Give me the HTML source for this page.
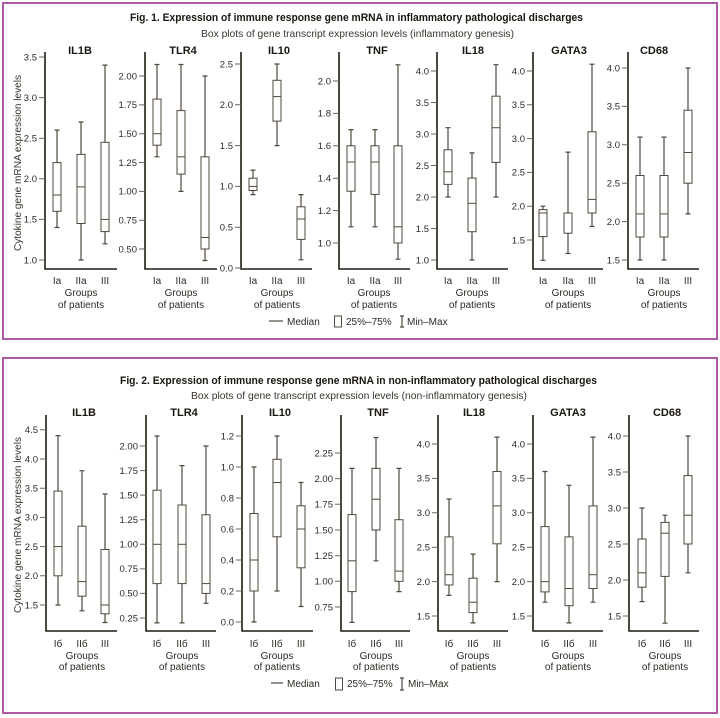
<!DOCTYPE html>
<html><head><meta charset="utf-8"><style>
html,body{margin:0;padding:0;background:#fff;}
svg{display:block;}
.ax{stroke:#1f1b12;stroke-width:1.6;fill:none}
.tk{stroke:#6b655c;stroke-width:1;fill:none}
.bx{stroke:#4f483e;stroke-width:1;fill:#fff}
.wk{stroke:#4f483e;stroke-width:1.2;fill:none}
.md{stroke:#4f483e;stroke-width:1;fill:none}
text{font-family:"Liberation Sans","Noto Sans CJK SC",sans-serif;fill:#2e2a24}
.tl{font-size:9.5px;text-anchor:end}
.gl{font-size:10px;text-anchor:middle}
.pt{font-size:11px;font-weight:bold;text-anchor:middle;fill:#1a1610}
.tt{font-size:11px;font-weight:bold;fill:#1a1610}
.st{font-size:10.5px;fill:#3a352e}
.lg{font-size:10px}
</style></head><body>
<svg width="720" height="718" viewBox="0 0 720 718" xmlns="http://www.w3.org/2000/svg">
<rect x="0" y="0" width="720" height="718" fill="#fff"/>
<rect x="3" y="3" width="714" height="336" fill="none" stroke="#b05aa5" stroke-width="2"/>
<rect x="3" y="358" width="714" height="355" fill="none" stroke="#b05aa5" stroke-width="2"/>

<!-- ================= FIG 1 ================= -->
<text class="tt" x="130" y="21" textLength="453" lengthAdjust="spacingAndGlyphs">Fig. 1. Expression of immune response gene mRNA in inflammatory pathological discharges</text>
<text class="st" x="201" y="37" textLength="313" lengthAdjust="spacingAndGlyphs">Box plots of gene transcript expression levels (inflammatory genesis)</text>
<text class="st" transform="translate(21,163) rotate(-90)" text-anchor="middle" textLength="176" lengthAdjust="spacingAndGlyphs">Cytokine gene mRNA expression levels</text>

<!-- IL1B -->
<text class="pt" x="80" y="54">IL1B</text>
<path class="ax" d="M45 52V269H117"/>
<path class="tk" d="M39 260H45M39 219.4H45M39 178.8H45M39 138.2H45M39 97.6H45M39 57H45"/>
<text class="tl" x="37" y="263.3">1.0</text><text class="tl" x="37" y="222.7">1.5</text><text class="tl" x="37" y="182.1">2.0</text><text class="tl" x="37" y="141.5">2.5</text><text class="tl" x="37" y="100.9">3.0</text><text class="tl" x="37" y="60.3">3.5</text>
<path class="wk" d="M57 227.5V130.1M54.5 227.5h5M54.5 130.1h5"/><rect class="bx" x="53" y="162.6" width="8" height="48.7"/><path class="md" d="M53 195h8"/>
<path class="wk" d="M81 260V122M78.5 260h5M78.5 122h5"/><rect class="bx" x="77" y="154.4" width="8" height="69.1"/><path class="md" d="M77 186.9h8"/>
<path class="wk" d="M105 243.8V65.1M102.5 243.8h5M102.5 65.1h5"/><rect class="bx" x="101" y="142.3" width="8" height="89.3"/><path class="md" d="M101 219.4h8"/>
<text class="gl" x="57" y="284">Ia</text><text class="gl" x="81" y="284">IIa</text><text class="gl" x="105" y="284">III</text>
<text class="gl" x="81" y="296">Groups</text><text class="gl" x="81" y="308">of patients</text>

<!-- TLR4 -->
<text class="pt" x="183" y="54">TLR4</text>
<path class="ax" d="M145 52V269H217"/>
<path class="tk" d="M139 249H145M139 220.2H145M139 191.4H145M139 162.5H145M139 133.7H145M139 104.9H145M139 76H145"/>
<text class="tl" x="137" y="252.3">0.50</text><text class="tl" x="137" y="223.5">0.75</text><text class="tl" x="137" y="194.7">1.00</text><text class="tl" x="137" y="165.8">1.25</text><text class="tl" x="137" y="137">1.50</text><text class="tl" x="137" y="108.2">1.75</text><text class="tl" x="137" y="79.3">2.00</text>
<path class="wk" d="M157 156.8V64.5M154.5 156.8h5M154.5 64.5h5"/><rect class="bx" x="153" y="99.1" width="8" height="46.1"/><path class="md" d="M153 133.7h8"/>
<path class="wk" d="M181 191.4V64.5M178.5 191.4h5M178.5 64.5h5"/><rect class="bx" x="177" y="110.6" width="8" height="63.5"/><path class="md" d="M177 156.8h8"/>
<path class="wk" d="M205 260.5V76M202.5 260.5h5M202.5 76h5"/><rect class="bx" x="201" y="156.8" width="8" height="92.2"/><path class="md" d="M201 237.5h8"/>
<text class="gl" x="157" y="284">Ia</text><text class="gl" x="181" y="284">IIa</text><text class="gl" x="205" y="284">III</text>
<text class="gl" x="181" y="296">Groups</text><text class="gl" x="181" y="308">of patients</text>

<!-- IL10 -->
<text class="pt" x="279" y="54">IL10</text>
<path class="ax" d="M241 52V269H312"/>
<path class="tk" d="M235 268H241M235 227.2H241M235 186.4H241M235 145.6H241M235 104.8H241M235 64H241"/>
<text class="tl" x="233" y="271.3">0.0</text><text class="tl" x="233" y="230.5">0.5</text><text class="tl" x="233" y="189.7">1.0</text><text class="tl" x="233" y="148.9">1.5</text><text class="tl" x="233" y="108.1">2.0</text><text class="tl" x="233" y="67.3">2.5</text>
<path class="wk" d="M253 194.6V170.1M250.5 194.6h5M250.5 170.1h5"/><rect class="bx" x="249" y="178.2" width="8" height="12.3"/><path class="md" d="M249 186.4h8"/>
<path class="wk" d="M277 145.6V64M274.5 145.6h5M274.5 64h5"/><rect class="bx" x="273" y="80.3" width="8" height="40.8"/><path class="md" d="M273 96.6h8"/>
<path class="wk" d="M301 259.8V194.6M298.5 259.8h5M298.5 194.6h5"/><rect class="bx" x="297" y="206.8" width="8" height="32.6"/><path class="md" d="M297 219h8"/>
<text class="gl" x="253" y="284">Ia</text><text class="gl" x="277" y="284">IIa</text><text class="gl" x="301" y="284">III</text>
<text class="gl" x="277" y="296">Groups</text><text class="gl" x="277" y="308">of patients</text>

<!-- TNF -->
<text class="pt" x="377" y="54">TNF</text>
<path class="ax" d="M339 52V269H410"/>
<path class="tk" d="M333 243H339M333 210.6H339M333 178.2H339M333 145.8H339M333 113.4H339M333 81H339"/>
<text class="tl" x="331" y="246.3">1.0</text><text class="tl" x="331" y="213.9">1.2</text><text class="tl" x="331" y="181.5">1.4</text><text class="tl" x="331" y="149.1">1.6</text><text class="tl" x="331" y="116.7">1.8</text><text class="tl" x="331" y="84.3">2.0</text>
<path class="wk" d="M351 226.8V129.6M348.5 226.8h5M348.5 129.6h5"/><rect class="bx" x="347" y="145.8" width="8" height="45.4"/><path class="md" d="M347 162h8"/>
<path class="wk" d="M375 226.8V129.6M372.5 226.8h5M372.5 129.6h5"/><rect class="bx" x="371" y="145.8" width="8" height="48.6"/><path class="md" d="M371 162h8"/>
<path class="wk" d="M398 259.2V64.8M395.5 259.2h5M395.5 64.8h5"/><rect class="bx" x="394" y="145.8" width="8" height="97.2"/><path class="md" d="M394 226.8h8"/>
<text class="gl" x="351" y="284">Ia</text><text class="gl" x="375" y="284">IIa</text><text class="gl" x="398" y="284">III</text>
<text class="gl" x="374" y="296">Groups</text><text class="gl" x="374" y="308">of patients</text>

<!-- IL18 -->
<text class="pt" x="473" y="54">IL18</text>
<path class="ax" d="M437 52V269H508"/>
<path class="tk" d="M431 260H437M431 228.5H437M431 197H437M431 165.5H437M431 134H437M431 102.5H437M431 71H437"/>
<text class="tl" x="429" y="263.3">1.0</text><text class="tl" x="429" y="231.8">1.5</text><text class="tl" x="429" y="200.3">2.0</text><text class="tl" x="429" y="168.8">2.5</text><text class="tl" x="429" y="137.3">3.0</text><text class="tl" x="429" y="105.8">3.5</text><text class="tl" x="429" y="74.3">4.0</text>
<path class="wk" d="M448 197V127.7M445.5 197h5M445.5 127.7h5"/><rect class="bx" x="444" y="149.8" width="8" height="34.6"/><path class="md" d="M444 171.8h8"/>
<path class="wk" d="M472 260V152.9M469.5 260h5M469.5 152.9h5"/><rect class="bx" x="468" y="178.1" width="8" height="53.6"/><path class="md" d="M468 203.3h8"/>
<path class="wk" d="M496 197V64.7M493.5 197h5M493.5 64.7h5"/><rect class="bx" x="492" y="96.2" width="8" height="66.2"/><path class="md" d="M492 127.7h8"/>
<text class="gl" x="448" y="284">Ia</text><text class="gl" x="472" y="284">IIa</text><text class="gl" x="496" y="284">III</text>
<text class="gl" x="472" y="296">Groups</text><text class="gl" x="472" y="308">of patients</text>

<!-- GATA3 -->
<text class="pt" x="569" y="54">GATA3</text>
<path class="ax" d="M533 52V269H603"/>
<path class="tk" d="M527 240H533M527 206.2H533M527 172.4H533M527 138.6H533M527 104.8H533M527 71H533"/>
<text class="tl" x="525" y="243.3">1.5</text><text class="tl" x="525" y="209.5">2.0</text><text class="tl" x="525" y="175.7">2.5</text><text class="tl" x="525" y="141.9">3.0</text><text class="tl" x="525" y="108.1">3.5</text><text class="tl" x="525" y="74.3">4.0</text>
<path class="wk" d="M543 260.3V206.2M540.5 260.3h5M540.5 206.2h5"/><rect class="bx" x="539" y="209.6" width="8" height="27"/><path class="md" d="M539 213h8"/>
<path class="wk" d="M568 253.5V152.1M565.5 253.5h5M565.5 152.1h5"/><rect class="bx" x="564" y="213" width="8" height="20.2"/>
<path class="wk" d="M592 226.5V64.2M589.5 226.5h5M589.5 64.2h5"/><rect class="bx" x="588" y="131.8" width="8" height="81.2"/><path class="md" d="M588 199.4h8"/>
<text class="gl" x="543" y="284">Ia</text><text class="gl" x="568" y="284">IIa</text><text class="gl" x="592" y="284">III</text>
<text class="gl" x="568" y="296">Groups</text><text class="gl" x="568" y="308">of patients</text>

<!-- CD68 -->
<text class="pt" x="654" y="54">CD68</text>
<path class="ax" d="M628 52V269H699"/>
<path class="tk" d="M622 260H628M622 221.6H628M622 183.2H628M622 144.8H628M622 106.4H628M622 68H628"/>
<text class="tl" x="620" y="263.3">1.5</text><text class="tl" x="620" y="224.9">2.0</text><text class="tl" x="620" y="186.5">2.5</text><text class="tl" x="620" y="148.1">3.0</text><text class="tl" x="620" y="109.7">3.5</text><text class="tl" x="620" y="71.3">4.0</text>
<path class="wk" d="M640 260V137.1M637.5 260h5M637.5 137.1h5"/><rect class="bx" x="636" y="175.5" width="8" height="61.5"/><path class="md" d="M636 213.9h8"/>
<path class="wk" d="M664 260V137.1M661.5 260h5M661.5 137.1h5"/><rect class="bx" x="660" y="175.5" width="8" height="61.5"/><path class="md" d="M660 213.9h8"/>
<path class="wk" d="M688 213.9V68M685.5 213.9h5M685.5 68h5"/><rect class="bx" x="684" y="110.2" width="8" height="73"/><path class="md" d="M684 152.5h8"/>
<text class="gl" x="640" y="284">Ia</text><text class="gl" x="664" y="284">IIa</text><text class="gl" x="688" y="284">III</text>
<text class="gl" x="664" y="296">Groups</text><text class="gl" x="664" y="308">of patients</text>

<!-- legend fig1 -->
<path class="wk" d="M269 321H283"/>
<text class="lg" x="287" y="325">Median</text>
<rect class="bx" x="334.5" y="316" width="7" height="11"/>
<text class="lg" x="346" y="325">25%–75%</text>
<path class="wk" d="M402 316V327M400 316h4M400 327h4"/>
<text class="lg" x="407" y="325">Min–Max</text>

<!-- ================= FIG 2 ================= -->
<text class="tt" x="120" y="384" textLength="477" lengthAdjust="spacingAndGlyphs">Fig. 2. Expression of immune response gene mRNA in non-inflammatory pathological discharges</text>
<text class="st" x="191" y="399" textLength="336" lengthAdjust="spacingAndGlyphs">Box plots of gene transcript expression levels (non-inflammatory genesis)</text>
<text class="st" transform="translate(21,525) rotate(-90)" text-anchor="middle" textLength="176" lengthAdjust="spacingAndGlyphs">Cytokine gene mRNA expression levels</text>

<!-- IL1B -->
<text class="pt" x="84" y="416">IL1B</text>
<path class="ax" d="M46 415V631H117"/>
<path class="tk" d="M40 605H46M40 575.8H46M40 546.6H46M40 517.4H46M40 488.2H46M40 459H46M40 429.8H46"/>
<text class="tl" x="38" y="608.3">1.5</text><text class="tl" x="38" y="579.1">2.0</text><text class="tl" x="38" y="549.9">2.5</text><text class="tl" x="38" y="520.7">3.0</text><text class="tl" x="38" y="491.5">3.5</text><text class="tl" x="38" y="462.3">4.0</text><text class="tl" x="38" y="433.1">4.5</text>
<path class="wk" d="M58 605V435.6M55.5 605h5M55.5 435.6h5"/><rect class="bx" x="54" y="491.1" width="8" height="84.7"/><path class="md" d="M54 546.6h8"/>
<path class="wk" d="M82 610.8V470.7M79.5 610.8h5M79.5 470.7h5"/><rect class="bx" x="78" y="526.2" width="8" height="70"/><path class="md" d="M78 581.6h8"/>
<path class="wk" d="M105 622.5V494M102.5 622.5h5M102.5 494h5"/><rect class="bx" x="101" y="549.5" width="8" height="64.3"/><path class="md" d="M101 605h8"/>
<text class="gl" x="58" y="647">Iб</text><text class="gl" x="82" y="647">IIб</text><text class="gl" x="105" y="647">III</text>
<text class="gl" x="82" y="659">Groups</text><text class="gl" x="82" y="670">of patients</text>

<!-- TLR4 -->
<text class="pt" x="184" y="416">TLR4</text>
<path class="ax" d="M146 415V631H216"/>
<path class="tk" d="M140 618H146M140 593.4H146M140 568.9H146M140 544.3H146M140 519.7H146M140 495.1H146M140 470.6H146M140 446H146"/>
<text class="tl" x="138" y="621.3">0.25</text><text class="tl" x="138" y="596.7">0.50</text><text class="tl" x="138" y="572.2">0.75</text><text class="tl" x="138" y="547.6">1.00</text><text class="tl" x="138" y="523">1.25</text><text class="tl" x="138" y="498.4">1.50</text><text class="tl" x="138" y="473.9">1.75</text><text class="tl" x="138" y="449.3">2.00</text>
<path class="wk" d="M157 622.9V436M154.5 622.9h5M154.5 436h5"/><rect class="bx" x="153" y="490.2" width="8" height="93.4"/><path class="md" d="M153 544.3h8"/>
<path class="wk" d="M182 622.9V465.6M179.5 622.9h5M179.5 465.6h5"/><rect class="bx" x="178" y="505" width="8" height="78.6"/><path class="md" d="M178 544.3h8"/>
<path class="wk" d="M206 603.3V446M203.5 603.3h5M203.5 446h5"/><rect class="bx" x="202" y="514.8" width="8" height="78.6"/><path class="md" d="M202 583.6h8"/>
<text class="gl" x="157" y="647">Iб</text><text class="gl" x="182" y="647">IIб</text><text class="gl" x="206" y="647">III</text>
<text class="gl" x="182" y="659">Groups</text><text class="gl" x="182" y="670">of patients</text>

<!-- IL10 -->
<text class="pt" x="280" y="416">IL10</text>
<path class="ax" d="M242 415V631H313"/>
<path class="tk" d="M236 622H242M236 591H242M236 560H242M236 529H242M236 498H242M236 467H242M236 436H242"/>
<text class="tl" x="234" y="625.3">0.0</text><text class="tl" x="234" y="594.3">0.2</text><text class="tl" x="234" y="563.3">0.4</text><text class="tl" x="234" y="532.3">0.6</text><text class="tl" x="234" y="501.3">0.8</text><text class="tl" x="234" y="470.3">1.0</text><text class="tl" x="234" y="439.3">1.2</text>
<path class="wk" d="M254 622V467M251.5 622h5M251.5 467h5"/><rect class="bx" x="250" y="513.5" width="8" height="77.5"/><path class="md" d="M250 560h8"/>
<path class="wk" d="M277 591V436M274.5 591h5M274.5 436h5"/><rect class="bx" x="273" y="459.3" width="8" height="77.5"/><path class="md" d="M273 482.5h8"/>
<path class="wk" d="M301 606.5V482.5M298.5 606.5h5M298.5 482.5h5"/><rect class="bx" x="297" y="505.8" width="8" height="62"/><path class="md" d="M297 529h8"/>
<text class="gl" x="254" y="647">Iб</text><text class="gl" x="277" y="647">IIб</text><text class="gl" x="301" y="647">III</text>
<text class="gl" x="277" y="659">Groups</text><text class="gl" x="277" y="670">of patients</text>

<!-- TNF -->
<text class="pt" x="378" y="416">TNF</text>
<path class="ax" d="M341 415V631H410"/>
<path class="tk" d="M335 607H341M335 581.3H341M335 555.7H341M335 530H341M335 504.3H341M335 478.6H341M335 453H341"/>
<text class="tl" x="333" y="610.3">0.75</text><text class="tl" x="333" y="584.6">1.00</text><text class="tl" x="333" y="559">1.25</text><text class="tl" x="333" y="533.3">1.50</text><text class="tl" x="333" y="507.6">1.75</text><text class="tl" x="333" y="481.9">2.00</text><text class="tl" x="333" y="456.3">2.25</text>
<path class="wk" d="M352 622.4V468.4M349.5 622.4h5M349.5 468.4h5"/><rect class="bx" x="348" y="514.6" width="8" height="77"/><path class="md" d="M348 560.8h8"/>
<path class="wk" d="M376 560.8V437.5M373.5 560.8h5M373.5 437.5h5"/><rect class="bx" x="372" y="468.4" width="8" height="61.6"/><path class="md" d="M372 499.2h8"/>
<path class="wk" d="M399 591.6V468.4M396.5 591.6h5M396.5 468.4h5"/><rect class="bx" x="395" y="519.7" width="8" height="61.6"/><path class="md" d="M395 571.1h8"/>
<text class="gl" x="352" y="647">Iб</text><text class="gl" x="376" y="647">IIб</text><text class="gl" x="399" y="647">III</text>
<text class="gl" x="376" y="659">Groups</text><text class="gl" x="376" y="670">of patients</text>

<!-- IL18 -->
<text class="pt" x="474" y="416">IL18</text>
<path class="ax" d="M438 415V631H508"/>
<path class="tk" d="M432 616H438M432 581.6H438M432 547.2H438M432 512.8H438M432 478.4H438M432 444H438"/>
<text class="tl" x="430" y="619.3">1.5</text><text class="tl" x="430" y="584.9">2.0</text><text class="tl" x="430" y="550.5">2.5</text><text class="tl" x="430" y="516.1">3.0</text><text class="tl" x="430" y="481.7">3.5</text><text class="tl" x="430" y="447.3">4.0</text>
<path class="wk" d="M449 595.4V499M446.5 595.4h5M446.5 499h5"/><rect class="bx" x="445" y="536.9" width="8" height="48.1"/><path class="md" d="M445 574.7h8"/>
<path class="wk" d="M473 622.9V554.1M470.5 622.9h5M470.5 554.1h5"/><rect class="bx" x="469" y="578.2" width="8" height="34.4"/><path class="md" d="M469 602.2h8"/>
<path class="wk" d="M497 581.6V437.1M494.5 581.6h5M494.5 437.1h5"/><rect class="bx" x="493" y="471.5" width="8" height="72.3"/><path class="md" d="M493 505.9h8"/>
<text class="gl" x="449" y="647">Iб</text><text class="gl" x="473" y="647">IIб</text><text class="gl" x="497" y="647">III</text>
<text class="gl" x="473" y="659">Groups</text><text class="gl" x="473" y="670">of patients</text>

<!-- GATA3 -->
<text class="pt" x="568" y="416">GATA3</text>
<path class="ax" d="M533 415V631H603"/>
<path class="tk" d="M527 616H533M527 581.6H533M527 547.2H533M527 512.8H533M527 478.4H533M527 444H533"/>
<text class="tl" x="525" y="619.3">1.5</text><text class="tl" x="525" y="584.9">2.0</text><text class="tl" x="525" y="550.5">2.5</text><text class="tl" x="525" y="516.1">3.0</text><text class="tl" x="525" y="481.7">3.5</text><text class="tl" x="525" y="447.3">4.0</text>
<path class="wk" d="M545 602.2V471.5M542.5 602.2h5M542.5 471.5h5"/><rect class="bx" x="541" y="526.6" width="8" height="65.3"/><path class="md" d="M541 581.6h8"/>
<path class="wk" d="M569 622.9V485.3M566.5 622.9h5M566.5 485.3h5"/><rect class="bx" x="565" y="536.9" width="8" height="68.8"/><path class="md" d="M565 588.5h8"/>
<path class="wk" d="M593 602.2V437.1M590.5 602.2h5M590.5 437.1h5"/><rect class="bx" x="589" y="505.9" width="8" height="82.6"/><path class="md" d="M589 574.7h8"/>
<text class="gl" x="545" y="647">Iб</text><text class="gl" x="569" y="647">IIб</text><text class="gl" x="593" y="647">III</text>
<text class="gl" x="568" y="659">Groups</text><text class="gl" x="568" y="670">of patients</text>

<!-- CD68 -->
<text class="pt" x="667" y="416">CD68</text>
<path class="ax" d="M629 415V631H699"/>
<path class="tk" d="M623 616H629M623 580H629M623 544H629M623 508H629M623 472H629M623 436H629"/>
<text class="tl" x="621" y="619.3">1.5</text><text class="tl" x="621" y="583.3">2.0</text><text class="tl" x="621" y="547.3">2.5</text><text class="tl" x="621" y="511.3">3.0</text><text class="tl" x="621" y="475.3">3.5</text><text class="tl" x="621" y="439.3">4.0</text>
<path class="wk" d="M642 601.6V508M639.5 601.6h5M639.5 508h5"/><rect class="bx" x="638" y="539" width="8" height="48.2"/><path class="md" d="M638 572.8h8"/>
<path class="wk" d="M665 623.2V515.2M662.5 623.2h5M662.5 515.2h5"/><rect class="bx" x="661" y="522.4" width="8" height="54"/><path class="md" d="M661 533.2h8"/>
<path class="wk" d="M688 572.8V436M685.5 572.8h5M685.5 436h5"/><rect class="bx" x="684" y="475.6" width="8" height="68.4"/><path class="md" d="M684 515.2h8"/>
<text class="gl" x="642" y="647">Iб</text><text class="gl" x="665" y="647">IIб</text><text class="gl" x="688" y="647">III</text>
<text class="gl" x="665" y="659">Groups</text><text class="gl" x="665" y="670">of patients</text>

<!-- legend fig2 -->
<path class="wk" d="M271 683H283"/>
<text class="lg" x="287" y="687">Median</text>
<rect class="bx" x="335.5" y="678" width="7" height="12"/>
<text class="lg" x="347" y="687">25%–75%</text>
<path class="wk" d="M402 678V690M400 678h4M400 690h4"/>
<text class="lg" x="408" y="687">Min–Max</text>
</svg>
</body></html>
